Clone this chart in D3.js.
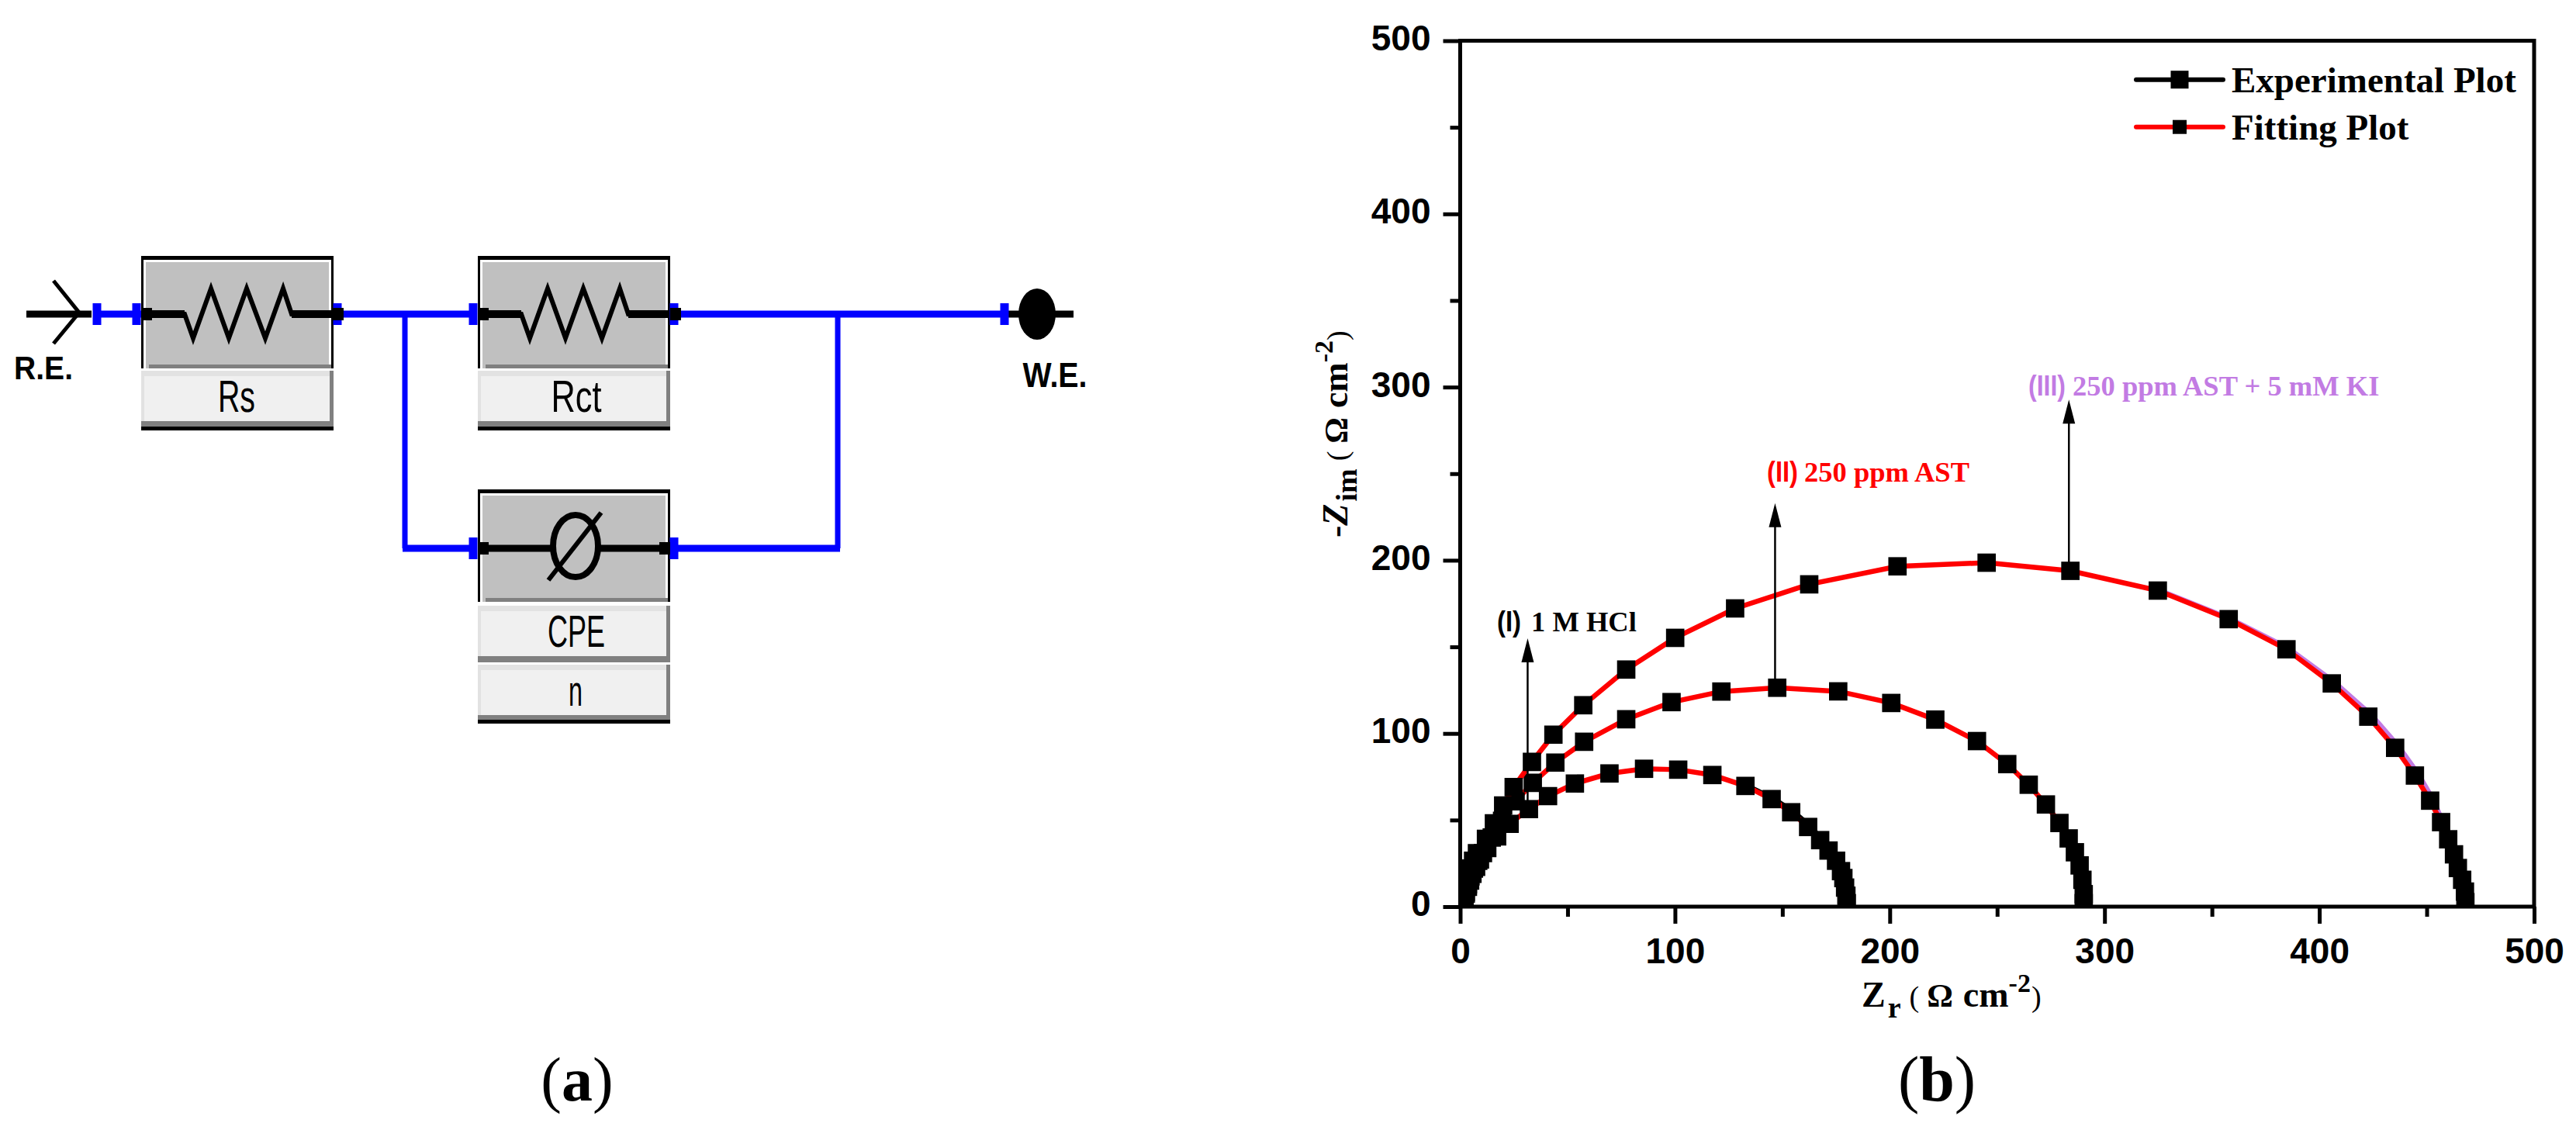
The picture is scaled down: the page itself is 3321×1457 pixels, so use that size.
<!DOCTYPE html>
<html lang="en">
<head>
<meta charset="UTF-8">
<title>EIS circuit and Nyquist plot</title>
<script src="https://d3js.org/d3.v7.min.js"></script>
<style>
  html, body { margin: 0; padding: 0; background: #fff; }
  svg { display: block; }
</style>
</head>
<body>
<script>
// values
var xTicks = [0, 100, 200, 300, 400, 500];
var yTicks = [0, 100, 200, 300, 400, 500];
var xMinor = [50, 150, 250, 350, 450];
var yMinor = [50, 150, 250, 350, 450];

var seriesI_re = [2, 2.6, 3.6, 4.6, 5.7, 7.4, 9.2, 12.6, 17.2, 23, 32, 40.9, 53.4, 69.5, 85.6, 101.5, 117.4, 132.8, 145, 154.1, 162, 167.6, 171.5, 175, 177.3, 178.4, 179.2, 179.8, 180];
var seriesI_im = [2, 7.5, 11.5, 15, 19, 23, 27.2, 33.9, 40.6, 47.8, 56.3, 63.8, 71.1, 76.9, 79.6, 79.1, 76, 69.7, 62.1, 54.5, 46, 38.4, 32.4, 26.5, 20.5, 16.5, 11, 6.3, 2];
var seriesII_re = [2, 2.6, 3.6, 4.8, 6.4, 8.4, 10.6, 14.7, 19.5, 25.8, 33.8, 44.3, 57.7, 77.3, 98.4, 121.6, 147.6, 176, 200.7, 221.2, 240.6, 254.7, 264.7, 272.7, 279, 283.3, 286.2, 288.4, 289.7, 290.3, 290.3];
var seriesII_im = [2, 8.5, 13, 17.5, 22, 26.5, 30.9, 39.9, 49.6, 60.8, 71.5, 83.2, 95.2, 108.2, 118.1, 124.2, 126.4, 124.3, 117.6, 108, 95.6, 82.3, 70.4, 59, 48.3, 39.4, 31.4, 23.8, 15.5, 7.2, 2];
var seriesIII_re = [1.5, 2.3, 4.3, 6, 7.8, 12, 15.7, 20, 24.9, 33.4, 43.4, 57.3, 77.3, 100.1, 128, 162.5, 203.6, 245.1, 284.1, 324.8, 357.8, 384.7, 405.8, 422.8, 435.3, 444.5, 451.6, 456.7, 460, 462.7, 464.5, 466.5, 467.8, 468];
var seriesIII_im = [4.8, 13.8, 22, 26.5, 30.9, 39.1, 48.1, 58.4, 69, 83.6, 99.3, 116.3, 136.9, 155.2, 172.2, 186.1, 196.5, 198.6, 193.9, 182.5, 166, 148.6, 128.9, 109.7, 91.7, 75.7, 61.2, 48.8, 38.9, 30.2, 22.3, 15.5, 8.7, 2.6];

// where the measured line shows from under the red fit
var expI_re = [132.8, 145.4, 154.8, 162.8, 168.2];
var expI_im = [70.2, 62.7, 55.1, 46.6, 39];
var expIII_re = [324.8, 357.8, 385.2, 406.8, 424.2, 436.8, 446, 452.8, 457.4];
var expIII_im = [183, 166.6, 149.4, 129.9, 110.7, 92.7, 76.7, 62.2, 49.2];

var arrowX = [31.4, 146.6, 283.4];
var arrowTip = [155, 233, 292.8];
var arrowFoot = [60, 128, 194];

var purple = "#c27be3", blue = "#0000ff";
var serif = "'Liberation Serif', serif", sans = "'Liberation Sans', sans-serif";

var svg = d3.select("body").append("svg")
    .attr("width", 3321)
    .attr("height", 1457)
    .style("background", "#fff");

/* ---------- (a) circuit ---------- */
var circuit = svg.append("g");

function wire(x1, y1, x2, y2, w, col) {
    circuit.append("line")
        .attr("x1", x1).attr("y1", y1).attr("x2", x2).attr("y2", y2)
        .attr("stroke", col).attr("stroke-width", w);
}
function rect(x, y, w, h, col) {
    circuit.append("rect").attr("x", x).attr("y", y).attr("width", w).attr("height", h).attr("fill", col);
}
function squeezed(str, cx, base, size, len, weight) {
    circuit.append("text")
        .attr("x", cx).attr("y", base)
        .attr("text-anchor", "middle")
        .attr("font-family", sans).attr("font-size", size)
        .attr("font-weight", weight || "normal")
        .attr("textLength", len).attr("lengthAdjust", "spacingAndGlyphs")
        .text(str);
}
function labelBox(x, y, h) {
    rect(x, y, 247, h + 8, "#e2e2e2");
    rect(x + 243, y, 5, h + 8, "#808080");
    rect(x + 4, y + 7, 239, h - 6, "#f0f0f0");
    rect(x, y + h + 1, 248, 8, "#808080");
}
function box(x, top, bottom) {
    rect(x, top, 248, 5, "#000");
    rect(x, top, 3, bottom - top, "#000");
    rect(x + 245, top, 3, bottom - top, "#000");
    rect(x + 6, top + 8, 236, bottom - top - 8, "#c0c0c0");
    rect(x + 10, bottom - 5, 235, 5, "#808080");
}
function resistor(x) {
    var pts = [[x, 405], [x + 56, 405], [x + 67, 436], [x + 90, 372], [x + 113, 436], [x + 136, 372], [x + 160, 436], [x + 183, 372], [x + 194, 405], [x + 248, 405]];
    circuit.append("path")
        .attr("d", d3.line()(pts))
        .attr("fill", "none").attr("stroke", "#000").attr("stroke-width", 6);
    rect(x, 400, 56, 10, "#000");
    rect(x + 194, 400, 54, 10, "#000");
}
function pin(x, y) {
    rect(x - 5.5, y - 14, 11, 28, blue);
}

box(182, 330, 475);
box(616, 330, 475);
box(616, 631, 776);
labelBox(182, 478, 64);
labelBox(616, 478, 64);
labelBox(616, 781, 64);
labelBox(616, 857, 64);
rect(182, 550, 248, 5, "#000");
rect(616, 550, 248, 5, "#000");
rect(616, 928, 248, 5, "#000");

wire(120, 405, 182, 405, 9, blue);
wire(435, 405, 610, 405, 9, blue);
wire(869, 405, 1295, 405, 9, blue);
wire(522, 405, 522, 707, 7, blue);
wire(1080, 405, 1080, 707, 7, blue);
wire(519, 707, 610, 707, 9, blue);
wire(869, 707, 1083, 707, 9, blue);

resistor(182);
resistor(616);

// CPE symbol
wire(616, 707, 712, 707, 9, "#000");
wire(772, 707, 864, 707, 9, "#000");
circuit.append("ellipse").attr("cx", 742).attr("cy", 704).attr("rx", 29).attr("ry", 40)
    .attr("fill", "none").attr("stroke", "#000").attr("stroke-width", 8);
wire(775, 661, 707, 748, 6, "#000");

// R.E. and W.E. ends
wire(34, 405, 118, 405, 9, "#000");
circuit.append("path").attr("d", "M69,362L102,403L69,443")
    .attr("fill", "none").attr("stroke", "#000").attr("stroke-width", 5);
wire(1299, 405, 1384, 405, 9, "#000");
circuit.append("ellipse").attr("cx", 1337).attr("cy", 405).attr("rx", 24).attr("ry", 33).attr("fill", "#000");

[125, 176, 435, 610, 869, 1295].forEach(function(x) { pin(x, 405); });
[610, 869].forEach(function(x) { pin(x, 707); });
[182, 429, 616, 864].forEach(function(x) { rect(x, 397, 14, 16, "#000"); });
[616, 864].forEach(function(x) { rect(x - 7 * (x > 700 ? 1 : -1) - 7, 699, 14, 16, "#000"); });

squeezed("Rs", 305, 531, 57, 48);
squeezed("Rct", 743, 531, 57, 65);
squeezed("CPE", 743, 834, 58, 74);
squeezed("n", 742, 910, 56, 18);
squeezed("R.E.", 56, 489, 43, 76, "bold");
squeezed("W.E.", 1360, 499, 45, 83, "bold");

function caption(str, cx, size) {
    var t = svg.append("text")
        .attr("x", cx).attr("y", 1419)
        .attr("text-anchor", "middle")
        .attr("font-family", serif).attr("font-size", size);
    t.append("tspan").text("(");
    t.append("tspan").attr("font-weight", "bold").text(str);
    t.append("tspan").text(")");
}
caption("a", 744, 80);
caption("b", 2497, 82);

/* ---------- (b) Nyquist plot ---------- */
var x = d3.scaleLinear().domain([0, 500]).range([1882.5, 3267]);
var y = d3.scaleLinear().domain([0, 500]).range([1169, 52.5]);

svg.append("clipPath").attr("id", "plot-area")
    .append("rect")
    .attr("x", x(0)).attr("y", y(500))
    .attr("width", x(500) - x(0)).attr("height", y(0) - y(500));

var plot = svg.append("g");

function styleAxis(g) {
    g.select(".domain").remove();
    g.selectAll("line").attr("stroke", "#000").attr("stroke-width", 5);
    g.selectAll("text")
        .attr("font-family", sans).attr("font-weight", "bold").attr("font-size", 46).attr("fill", "#000");
}

plot.append("g").attr("transform", "translate(0,1169)")
    .call(d3.axisBottom(x).tickValues(xMinor).tickSize(13).tickFormat(""))
    .call(styleAxis);
plot.append("g").attr("transform", "translate(1882.5,0)")
    .call(d3.axisLeft(y).tickValues(yMinor).tickSize(13).tickFormat(""))
    .call(styleAxis);
plot.append("g").attr("transform", "translate(0,1169)")
    .call(d3.axisBottom(x).tickValues(xTicks).tickSize(22).tickPadding(18).tickFormat(d3.format("d")))
    .call(styleAxis);
plot.append("g").attr("transform", "translate(1882.5,0)")
    .call(d3.axisLeft(y).tickValues(yTicks).tickSize(22).tickPadding(16).tickFormat(d3.format("d")))
    .call(styleAxis)
    .call(function(g) { g.selectAll("text").attr("dy", ".26em"); });

var curve = d3.line().x(function(d) { return x(d[0]); }).y(function(d) { return y(d[1]); });
var square = d3.symbol().type(d3.symbolSquare).size(560);
var marks = plot.append("g").attr("clip-path", "url(#plot-area)");

function drawLine(re, im, col) {
    marks.append("path")
        .datum(d3.zip(re, im))
        .attr("d", curve)
        .attr("fill", "none").attr("stroke", col).attr("stroke-width", 6.5);
}
function drawMarkers(re, im) {
    marks.append("g").selectAll("path")
        .data(d3.zip(re, im))
        .join("path")
        .attr("transform", function(d) { return "translate(" + x(d[0]) + "," + y(d[1]) + ")"; })
        .attr("d", square)
        .attr("fill", "#000");
}

drawLine(expI_re, expI_im, "#000");
drawLine(seriesI_re, seriesI_im, "#ff0000");
drawMarkers(seriesI_re, seriesI_im);
drawLine(seriesII_re, seriesII_im, "#ff0000");
drawMarkers(seriesII_re, seriesII_im);
drawLine(expIII_re, expIII_im, purple);
drawLine(seriesIII_re, seriesIII_im, "#ff0000");
drawMarkers(seriesIII_re, seriesIII_im);

// frame
plot.append("path")
    .attr("d", "M" + x(0) + "," + y(0) + "V" + y(500) + "H" + x(500) + "V" + y(0) + "H" + x(0))
    .attr("fill", "none").attr("stroke", "#000").attr("stroke-width", 5);

// arrows pointing at the labels
arrowX.forEach(function(v, i) {
    plot.append("line")
        .attr("x1", x(v)).attr("x2", x(v))
        .attr("y1", y(arrowFoot[i])).attr("y2", y(arrowTip[i]) + 25)
        .attr("stroke", "#000").attr("stroke-width", 2.5);
    plot.append("path")
        .attr("d", "M" + x(v) + "," + y(arrowTip[i]) + "l8,31h-16z")
        .attr("fill", "#000");
});

function annotate(roman, str, xRoman, lenRoman, xText, base, col) {
    plot.append("text").attr("x", xRoman).attr("y", base)
        .attr("font-family", sans).attr("font-size", 36).attr("font-weight", "bold").attr("fill", col)
        .attr("textLength", lenRoman).attr("lengthAdjust", "spacingAndGlyphs")
        .text("(" + roman + ")");
    plot.append("text").attr("x", xText).attr("y", base)
        .attr("font-family", serif).attr("font-weight", "bold").attr("font-size", 36.5).attr("fill", col)
        .text(str);
}
annotate("I", "1 M HCl", 1930, 31, 1974, 814, "#000");
annotate("II", "250 ppm AST", 2278, 40, 2326, 621, "#ff0000");
annotate("III", "250 ppm AST + 5 mM KI", 2615, 48, 2672, 510, purple);

// axis titles, built piece by piece for the sub and superscripts
function pieces(t, parts) {
    parts.forEach(function(p) {
        t.append("tspan")
            .attr("dx", p.dx || 0)
            .attr("dy", p.dy || 0)
            .attr("font-size", p.size)
            .attr("font-weight", p.weight || "bold")
            .attr("font-style", p.italic ? "italic" : "normal")
            .text(p.s);
    });
}
pieces(plot.append("text").attr("x", 2400).attr("y", 1298).attr("font-family", serif), [
    { s: "Z", size: 46 },
    { s: "r", size: 38, dx: 3, dy: 14 },
    { s: "(", size: 38, weight: "normal", dx: 11, dy: -14 },
    { s: "Ω", size: 42, dx: 10 },
    { s: "cm", size: 46, dx: 13 },
    { s: "-2", size: 34, dy: -19 },
    { s: ")", size: 38, weight: "normal", dx: 1, dy: 19 }
]);
pieces(plot.append("text").attr("transform", "translate(1737,693) rotate(-90)").attr("font-family", serif), [
    { s: "-", size: 46 },
    { s: "Z", size: 46, italic: true },
    { s: "im", size: 38, dx: 3, dy: 12 },
    { s: "(", size: 38, weight: "normal", dx: 10, dy: -12 },
    { s: "Ω", size: 42, dx: 10 },
    { s: "cm", size: 46, dx: 12 },
    { s: "-2", size: 34, dy: -19 },
    { s: ")", size: 38, weight: "normal", dx: 0, dy: 19 }
]);

// legend
var legendRows = ["Experimental Plot", "Fitting Plot"];
var legendCols = ["#000", "#ff0000"];
var legendMark = [23, 18];
var legendY = [102.7, 163.7];
var legendBase = [119, 180];
legendRows.forEach(function(name, i) {
    plot.append("line")
        .attr("x1", 2754).attr("x2", 2866).attr("y1", legendY[i]).attr("y2", legendY[i])
        .attr("stroke", legendCols[i]).attr("stroke-width", 6).attr("stroke-linecap", "round");
    plot.append("rect")
        .attr("x", 2810 - legendMark[i] / 2).attr("y", legendY[i] - legendMark[i] / 2)
        .attr("width", legendMark[i]).attr("height", legendMark[i]).attr("fill", "#000");
    plot.append("text")
        .attr("x", 2877).attr("y", legendBase[i])
        .attr("font-family", serif).attr("font-weight", "bold").attr("font-size", 47)
        .text(name);
});
</script>
</body>
</html>
